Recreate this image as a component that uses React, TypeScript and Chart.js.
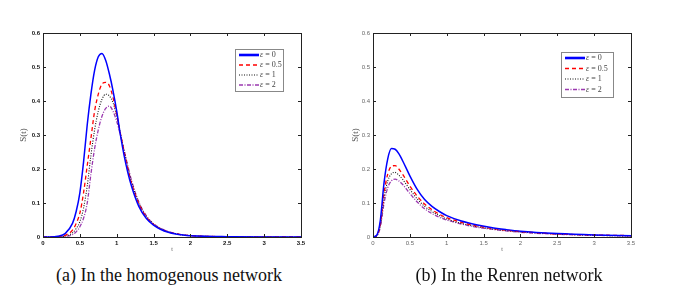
import React, { useEffect, useRef } from "react";
import { Chart, registerables } from "chart.js";

Chart.register(...registerables);

// ---- data ----
const seriesSymbol = "ε";
const seriesValues = ["0", "0.5", "1", "2"];
const seriesLabels = seriesValues.map((v) => `${seriesSymbol} = ${v}`);
const xTicksMax = 3.5;
const yTicksMax = 0.6;

// (a) homogenous network
const tA = [0, 0.1, 0.2, 0.3, 0.4, 0.45, 0.5, 0.55, 0.6, 0.65, 0.7, 0.75, 0.8, 0.85, 0.9, 0.95, 1.0, 1.05, 1.1, 1.15, 1.2, 1.3, 1.4, 1.5, 1.6, 1.7, 1.8, 1.9, 2.0, 2.2, 2.5, 3.0, 3.5];
const eps0A = [0, 0, 0.002, 0.01, 0.04, 0.075, 0.13, 0.22, 0.33, 0.42, 0.49, 0.53, 0.54, 0.52, 0.48, 0.43, 0.37, 0.3, 0.24, 0.19, 0.15, 0.09, 0.055, 0.035, 0.022, 0.014, 0.009, 0.006, 0.004, 0.002, 0.001, 0, 0];
const eps05A = [0, 0, 0.001, 0.005, 0.02, 0.04, 0.07, 0.13, 0.21, 0.29, 0.37, 0.42, 0.45, 0.455, 0.445, 0.41, 0.36, 0.305, 0.25, 0.2, 0.158, 0.097, 0.059, 0.037, 0.023, 0.015, 0.01, 0.006, 0.004, 0.002, 0.001, 0, 0];
const eps1A = [0, 0, 0, 0.003, 0.012, 0.025, 0.045, 0.085, 0.15, 0.24, 0.315, 0.37, 0.405, 0.42, 0.415, 0.395, 0.355, 0.305, 0.255, 0.205, 0.162, 0.1, 0.061, 0.038, 0.024, 0.015, 0.01, 0.006, 0.004, 0.002, 0.001, 0, 0];
const eps2A = [0, 0, 0, 0.002, 0.007, 0.015, 0.03, 0.055, 0.1, 0.185, 0.26, 0.315, 0.355, 0.378, 0.385, 0.37, 0.34, 0.3, 0.255, 0.21, 0.167, 0.103, 0.063, 0.039, 0.025, 0.016, 0.01, 0.006, 0.004, 0.002, 0.001, 0, 0];

// (b) Renren network
const tB = [0, 0.05, 0.1, 0.15, 0.2, 0.25, 0.3, 0.35, 0.4, 0.5, 0.6, 0.7, 0.8, 0.9, 1.0, 1.2, 1.4, 1.6, 1.8, 2.0, 2.5, 3.0, 3.5];
const eps0B = [0, 0.005, 0.05, 0.16, 0.23, 0.26, 0.258, 0.245, 0.225, 0.18, 0.14, 0.11, 0.09, 0.075, 0.063, 0.047, 0.036, 0.028, 0.022, 0.017, 0.01, 0.006, 0.004];
const eps05B = [0, 0.004, 0.04, 0.13, 0.185, 0.208, 0.21, 0.2, 0.185, 0.15, 0.12, 0.097, 0.08, 0.067, 0.057, 0.043, 0.033, 0.026, 0.02, 0.016, 0.009, 0.006, 0.004];
const eps1B = [0, 0.003, 0.035, 0.115, 0.165, 0.186, 0.19, 0.182, 0.17, 0.14, 0.112, 0.09, 0.075, 0.063, 0.053, 0.04, 0.031, 0.024, 0.019, 0.015, 0.009, 0.005, 0.003];
const eps2B = [0, 0.003, 0.03, 0.1, 0.145, 0.165, 0.17, 0.165, 0.155, 0.128, 0.103, 0.083, 0.069, 0.058, 0.05, 0.038, 0.029, 0.023, 0.018, 0.014, 0.008, 0.005, 0.003];

// ---- styles ----
const lineStyles = [
  { color: "#0000ff", width: 1.5, dash: [] as number[], legendWidth: 2.6 },
  { color: "#ff0000", width: 1.3, dash: [4, 3], legendWidth: 1.3 },
  { color: "#111111", width: 1.1, dash: [1, 1.5], legendWidth: 1.1 },
  { color: "#9b39b0", width: 1.3, dash: [4, 1.5, 1, 1.5], legendWidth: 1.3 },
];

type PanelProps = {
  t: number[];
  series: number[][];
  left: number;
  tickColor: string;
  tickBold: boolean;
  yTitleX: number;
  legendW: number;
  legendH: number;
  legendTop: number;
  legendRowH: number;
};

const framePlugin = (p: PanelProps) => ({
  id: "frame" + p.left,
  afterDatasetsDraw(chart: any) {
    const ctx = chart.ctx;
    const ca = chart.chartArea;
    const xs = chart.scales.x;
    const ys = chart.scales.y;
    ctx.save();
    ctx.strokeStyle = "#222";
    ctx.lineWidth = 1;
    ctx.setLineDash([]);
    ctx.strokeRect(Math.round(ca.left) + 0.5, Math.round(ca.top) + 0.5, Math.round(ca.right - ca.left), Math.round(ca.bottom - ca.top));
    const tl = 3;
    ctx.beginPath();
    for (const tk of xs.ticks) {
      const x = Math.round(xs.getPixelForValue(tk.value)) + 0.5;
      ctx.moveTo(x, ca.bottom);
      ctx.lineTo(x, ca.bottom - tl);
      ctx.moveTo(x, ca.top);
      ctx.lineTo(x, ca.top + tl);
    }
    for (const tk of ys.ticks) {
      const y = Math.round(ys.getPixelForValue(tk.value)) + 0.5;
      ctx.moveTo(ca.left, y);
      ctx.lineTo(ca.left + tl, y);
      ctx.moveTo(ca.right, y);
      ctx.lineTo(ca.right - tl, y);
    }
    ctx.stroke();

    // axis titles
    ctx.fillStyle = "#555";
    ctx.font = "9px 'Liberation Serif', serif";
    ctx.textAlign = "center";
    ctx.textBaseline = "middle";
    ctx.save();
    ctx.translate(p.yTitleX, (ca.top + ca.bottom) / 2);
    ctx.rotate(-Math.PI / 2);
    ctx.fillText("S(t)", 0, 0);
    ctx.restore();
    ctx.font = "6px 'Liberation Serif', serif";
    ctx.fillText("t", (ca.left + ca.right) / 2, ca.bottom + 12);

    // legend
    const bx = ca.right - 18 - p.legendW;
    const by = p.legendTop;
    ctx.fillStyle = "#fff";
    ctx.fillRect(bx, by, p.legendW, p.legendH);
    ctx.strokeStyle = "#888";
    ctx.lineWidth = 1;
    ctx.strokeRect(Math.round(bx) + 0.5, Math.round(by) + 0.5, p.legendW, p.legendH);
    ctx.textAlign = "left";
    ctx.textBaseline = "middle";
    seriesLabels.forEach((lab, i) => {
      const st = lineStyles[i];
      const y = by + 6 + i * p.legendRowH;
      ctx.beginPath();
      ctx.strokeStyle = st.color;
      ctx.lineWidth = st.legendWidth;
      ctx.setLineDash(st.dash);
      ctx.moveTo(bx + 4, y);
      ctx.lineTo(bx + 24, y);
      ctx.stroke();
      ctx.setLineDash([]);
      ctx.fillStyle = "#444";
      const sym = lab.slice(0, 1);
      const rest = lab.slice(1);
      ctx.font = "italic 8px 'Liberation Serif', serif";
      ctx.fillText(sym, bx + 25, y);
      const w = ctx.measureText(sym).width;
      ctx.font = "8px 'Liberation Serif', serif";
      ctx.fillText(rest, bx + 25 + w, y);
    });
    ctx.restore();
  },
});

function Panel(p: PanelProps) {
  const ref = useRef<HTMLCanvasElement>(null);
  useEffect(() => {
    if (!ref.current) return;
    const tickFont = { size: 6, family: "Arial, 'Liberation Sans', sans-serif", weight: p.tickBold ? "bold" : "normal" };
    const fmt = (v: any) => String(Math.round(Number(v) * 10) / 10);
    const chart = new Chart(ref.current, {
      type: "line",
      data: {
        datasets: p.series.map((vals, i) => ({
          label: seriesLabels[i],
          data: p.t.map((x, j) => ({ x, y: vals[j] })),
          borderColor: lineStyles[i].color,
          borderWidth: lineStyles[i].width,
          borderDash: lineStyles[i].dash,
          pointRadius: 0,
          fill: false,
          cubicInterpolationMode: "monotone" as const,
        })),
      },
      options: {
        responsive: false,
        animation: false,
        layout: { padding: { left: 0, top: 33, right: 39, bottom: 0 } },
        plugins: { legend: { display: false }, tooltip: { enabled: false } },
        scales: {
          x: {
            type: "linear",
            min: 0,
            max: xTicksMax,
            grid: { display: false, drawTicks: false, tickLength: 0 },
            border: { display: false },
            afterFit: (s: any) => { s.height = 25; },
            ticks: { stepSize: 0.5, padding: 3, maxRotation: 0, autoSkip: false, color: p.tickColor, font: tickFont, callback: fmt },
          },
          y: {
            type: "linear",
            min: 0,
            max: yTicksMax,
            grid: { display: false, drawTicks: false, tickLength: 0 },
            border: { display: false },
            afterFit: (s: any) => { s.width = 43; },
            ticks: { stepSize: 0.1, padding: 3, autoSkip: false, color: p.tickColor, font: tickFont, callback: fmt },
          },
        },
      } as any,
      plugins: [framePlugin(p)],
    });
    return () => chart.destroy();
  }, []);
  return (
    <canvas
      ref={ref}
      width={340}
      height={262}
      style={{ position: "absolute", left: p.left, top: 0, width: 340, height: 262 }}
    />
  );
}

const captionStyle: React.CSSProperties = {
  position: "absolute",
  top: 264,
  width: 300,
  textAlign: "center",
  fontFamily: "'Liberation Serif', 'Times New Roman', serif",
  fontSize: 18,
  lineHeight: "22px",
  color: "#111",
  whiteSpace: "nowrap",
};

export default function App() {
  return (
    <div style={{ position: "absolute", left: 0, top: 0, width: 693, height: 294, background: "#fff", overflow: "hidden" }}>
      <Panel t={tA} series={[eps0A, eps05A, eps1A, eps2A]} left={0} tickColor="#111" tickBold={true} yTitleX={24} legendW={48} legendH={42} legendTop={49} legendRowH={10} />
      <Panel t={tB} series={[eps0B, eps05B, eps1B, eps2B]} left={330} tickColor="#666" tickBold={false} yTitleX={26} legendW={52} legendH={45} legendTop={52} legendRowH={10.5} />
      <div style={{ ...captionStyle, left: 169 - 150 }}>(a) In the homogenous network</div>
      <div style={{ ...captionStyle, left: 509 - 150 }}>(b) In the Renren network</div>
    </div>
  );
}
